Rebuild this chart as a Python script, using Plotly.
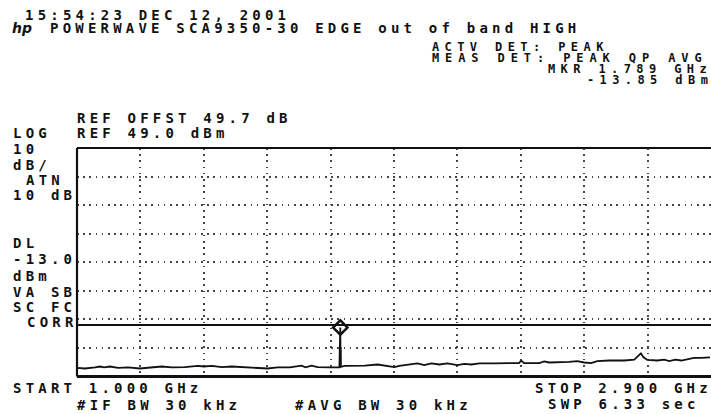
import plotly.graph_objects as go

freq_ghz = [
    1.000, 1.024, 1.054, 1.069, 1.081, 1.099, 1.123, 1.153, 1.188, 1.218,
    1.254, 1.284, 1.323, 1.362, 1.380, 1.404, 1.434, 1.464, 1.503, 1.542,
    1.571, 1.601, 1.637, 1.673, 1.685, 1.703, 1.721, 1.757, 1.781, 1.7865,
    1.7875, 1.7885, 1.789, 1.7895, 1.7905, 1.791,
    1.802, 1.832, 1.862, 1.901, 1.913, 1.936, 1.951, 1.966, 1.996, 2.020,
    2.041, 2.062, 2.086, 2.110, 2.140, 2.161, 2.182, 2.206, 2.251, 2.296,
    2.325, 2.331, 2.340, 2.385, 2.400, 2.415, 2.445, 2.475, 2.499, 2.520,
    2.541, 2.559, 2.595, 2.640, 2.670, 2.682, 2.690, 2.697, 2.709, 2.739,
    2.760, 2.775, 2.793, 2.811, 2.828, 2.849, 2.870, 2.897,
]
level_dbm = [
    -28.0, -28.2, -27.8, -27.5, -27.8, -27.5, -28.0, -27.8, -28.2, -27.8,
    -27.5, -27.8, -27.7, -27.3, -27.5, -27.3, -27.7, -27.5, -27.8, -28.0,
    -28.2, -27.8, -27.8, -27.2, -27.8, -27.2, -27.7, -27.8, -27.8, -27.8,
    -21.0, -13.85, -13.85, -21.0, -21.0, -27.6,
    -27.3, -27.3, -27.2, -26.8, -27.0, -27.2, -27.7, -27.3, -26.8, -26.4,
    -27.0, -26.4, -26.8, -26.4, -27.0, -26.6, -26.8, -26.4, -26.4, -26.4,
    -26.3, -25.4, -26.3, -26.3, -25.7, -26.1, -26.1, -25.9, -25.6, -26.1,
    -26.3, -25.6, -25.4, -25.4, -25.1, -23.8, -22.9, -24.2, -25.2, -25.4,
    -25.1, -25.6, -25.1, -25.4, -24.9, -24.5, -24.5, -24.3,
]
marker_freq_ghz = 1.789
marker_level_dbm = -13.85
display_line_dbm = -13.0
ref_level_dbm = 49.0
db_per_div = 10
n_ydiv = 8
start_ghz = 1.0
stop_ghz = 2.9
n_xdiv = 10

header_texts = [
    "15:54:23 DEC 12, 2001",
    "POWERWAVE SCA9350-30 EDGE out of band HIGH",
]
status_texts = [
    "ACTV DET: PEAK",
    "MEAS DET: PEAK QP AVG",
    "MKR 1.789 GHz",
    "-13.85 dBm",
]
ref_texts = ["REF OFFST 49.7 dB", "REF 49.0 dBm"]
side_texts = ["LOG", "10", "dB/", "ATN", "10 dB", "DL", "-13.0", "dBm",
              "VA SB", "SC FC", "CORR"]
footer_texts = ["START 1.000 GHz", "#IF BW 30 kHz", "#AVG BW 30 kHz",
                "STOP 2.900 GHz", "SWP 6.33 sec"]

# ---------------- layout constants ----------------
W, H = 711, 414
PL, PT, PB = 77, 148, 376.5
FONT = "DejaVu Sans Mono"
LS = 4.2


def mono(s, ls=LS):
    # letter-spaced text, without trailing spacing after the last character
    return f'<span style="letter-spacing:{ls}px">{s[:-1]}</span>{s[-1]}'


fig = go.Figure()

fig.add_trace(go.Scatter(
    x=freq_ghz, y=level_dbm, mode="lines",
    line=dict(color="#111111", width=1.8),
    hoverinfo="skip", showlegend=False,
))
fig.add_trace(go.Scatter(
    x=[marker_freq_ghz], y=[marker_level_dbm], mode="markers",
    marker=dict(symbol="diamond-open", size=11, color="#111111",
                line=dict(width=2.5, color="#111111")),
    hoverinfo="skip", showlegend=False,
))

grid_common = dict(
    showgrid=True, gridcolor="#444444", gridwidth=1.6, griddash="1.6px,4.6px",
    zeroline=False, showticklabels=False, ticks="", showline=False,
)
fig.update_xaxes(
    range=[start_ghz, stop_ghz], tick0=start_ghz,
    dtick=(stop_ghz - start_ghz) / n_xdiv,
    domain=[PL / W, 1.0], **grid_common,
)
fig.update_yaxes(
    range=[ref_level_dbm - n_ydiv * db_per_div, ref_level_dbm],
    tick0=ref_level_dbm, dtick=db_per_div,
    domain=[(H - PB) / H, (H - PT) / H], **grid_common,
)

# border lines of the graticule (top, left, bottom) and display line
line_style = dict(color="#111111", width=2.2)
fig.add_shape(type="line", xref="x domain", yref="y domain",
              x0=0, x1=1, y0=1, y1=1, line=line_style)
fig.add_shape(type="line", xref="x domain", yref="y domain",
              x0=0, x1=0, y0=0, y1=1, line=line_style)
fig.add_shape(type="line", xref="x domain", yref="y domain",
              x0=0, x1=1, y0=0, y1=0, line=dict(color="#111111", width=3))
fig.add_shape(type="line", xref="x domain", yref="y",
              x0=0, x1=1, y0=display_line_dbm, y1=display_line_dbm,
              line=dict(color="#111111", width=2))


def label(text, xpx, ypx, size=14, ls=LS):
    fig.add_annotation(
        text=mono(text, ls), x=xpx / W, y=1 - ypx / H,
        xref="paper", yref="paper", xanchor="left", yanchor="middle",
        showarrow=False, borderpad=0,
        font=dict(family=FONT, size=size, color="#111111", weight="bold"),
    )


# header
label(header_texts[0], 24, 15)
fig.add_annotation(text="<i>hp</i>", x=11 / W, y=1 - 28 / H, xref="paper",
                   yref="paper", xanchor="left", yanchor="middle",
                   showarrow=False, borderpad=0,
                   font=dict(family="DejaVu Sans", size=14, color="#111111",
                             weight="bold"))
label(header_texts[1], 49, 28)

# status block
label(status_texts[0], 431, 47, size=12, ls=5.4)
label(status_texts[1], 431, 58, size=12, ls=5.9)
label(status_texts[2], 547, 69, size=12, ls=5.4)
label(status_texts[3], 586, 80, size=12, ls=5.4)

# reference lines
label(ref_texts[0], 76, 118)
label(ref_texts[1], 76, 133)

# side column
side_pos = [(12, 133), (12, 149), (12, 165), (25, 180), (12, 195),
            (12, 243), (12, 259), (12, 276), (12, 292), (12, 307), (26, 322)]
for txt, (px, py) in zip(side_texts, side_pos):
    label(txt, px, py)

# footer
label(footer_texts[0], 12, 388)
label(footer_texts[1], 76, 405)
label(footer_texts[2], 294, 405)
label(footer_texts[3], 534, 388)
label(footer_texts[4], 547, 404)

fig.update_layout(
    width=W, height=H,
    margin=dict(l=0, r=0, t=0, b=0, autoexpand=False),
    paper_bgcolor="white", plot_bgcolor="white",
    showlegend=False,
)

fig.write_html(
    "out.html",
    config={"displayModeBar": False},
    post_script="document.body.style.margin='0';"
                "document.body.style.overflow='hidden';",
)
